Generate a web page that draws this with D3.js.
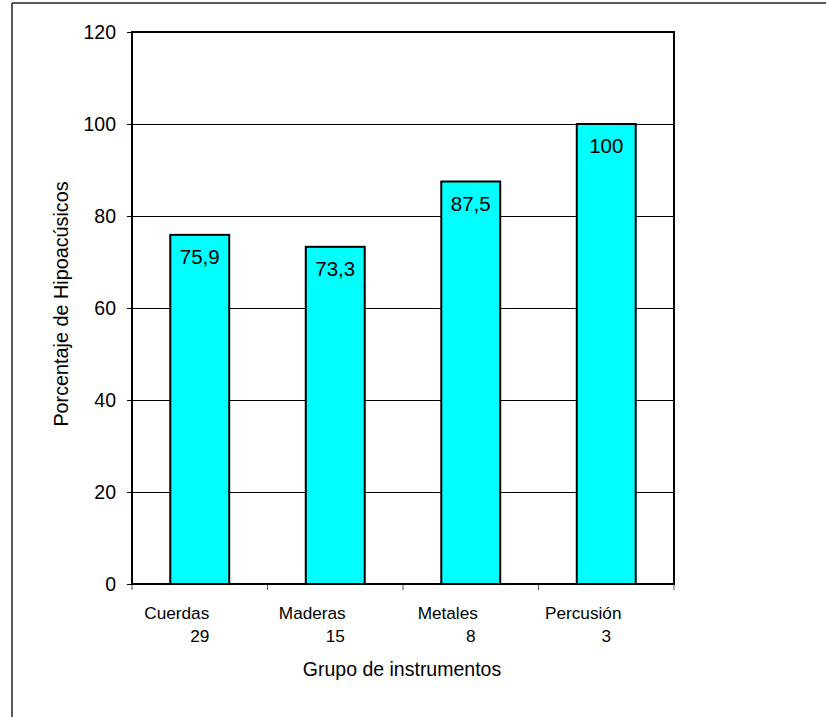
<!DOCTYPE html>
<html>
<head>
<meta charset="utf-8">
<script src="https://cdn.jsdelivr.net/npm/d3@7"></script>
<style>
  html, body { margin: 0; padding: 0; background: #fff; }
  svg { display: block; font-family: Arial, "Liberation Sans", sans-serif; }
</style>
</head>
<body>
<script>
// Porcentaje de músicos hipoacúsicos por grupo de instrumentos
const categories = ["Cuerdas", "Maderas", "Metales", "Percusión"];
const counts = ["29", "15", "8", "3"];            // n de cada grupo
const percentages = [75.9, 73.3, 87.5, 100];
const valueLabels = ["75,9", "73,3", "87,5", "100"];
const yTicks = [0, 20, 40, 60, 80, 100, 120];
const yTitle = "Porcentaje de Hipoacúsicos";
const xTitle = "Grupo de instrumentos";

const W = 826, H = 717;
const plot = { left: 132, right: 674, top: 32, bottom: 584 };

const svg = d3.select("body").append("svg")
  .attr("width", W).attr("height", H);

// frame lines of the chart area
svg.append("line").attr("x1", 12).attr("x2", W).attr("y1", 3).attr("y2", 3)
  .attr("stroke", "#222").attr("stroke-width", 1.5);
svg.append("line").attr("x1", 12).attr("x2", 12).attr("y1", 3).attr("y2", H)
  .attr("stroke", "#222").attr("stroke-width", 1.5);

const y = d3.scaleLinear().domain([0, 120]).range([plot.bottom, plot.top]);
const xCat = d3.scaleBand().domain(categories).range([plot.left, plot.right]).padding(0);
const xBar = d3.scaleBand().domain(categories).range([plot.left, plot.right])
  .paddingInner(0.565).paddingOuter(0.2825);

// horizontal gridlines
svg.append("g").selectAll("line")
  .data(yTicks.filter(v => v > 0 && v < 120))
  .join("line")
  .attr("x1", plot.left).attr("x2", plot.right)
  .attr("y1", d => Math.round(y(d)) + 0.5).attr("y2", d => Math.round(y(d)) + 0.5)
  .attr("stroke", "#000").attr("stroke-width", 1);

// y axis
const yAxis = svg.append("g")
  .attr("transform", `translate(${plot.left},0)`)
  .call(d3.axisLeft(y).tickValues(yTicks).tickSize(5).tickPadding(11).tickFormat(d3.format("d")));
yAxis.select(".domain").remove();
yAxis.selectAll(".tick line").attr("stroke", "#000").attr("stroke-width", 1);
yAxis.selectAll(".tick text").attr("font-size", 19.5).attr("fill", "#000")
  .attr("font-family", "Arial, 'Liberation Sans', sans-serif");

// x axis ticks at category boundaries
const bounds = categories.map(c => xCat(c)).concat([plot.right]);
svg.append("g").selectAll("line").data(bounds).join("line")
  .attr("x1", d => d).attr("x2", d => d)
  .attr("y1", plot.bottom).attr("y2", plot.bottom + 6)
  .attr("stroke", "#555").attr("stroke-width", 1);

// bars
svg.append("g").selectAll("rect")
  .data(categories)
  .join("rect")
  .attr("x", d => xBar(d))
  .attr("y", (d, i) => y(percentages[i]))
  .attr("width", xBar.bandwidth())
  .attr("height", (d, i) => plot.bottom - y(percentages[i]))
  .attr("fill", "#00ffff")
  .attr("stroke", "#000")
  .attr("stroke-width", 2);

// plot border
svg.append("rect")
  .attr("x", plot.left).attr("y", plot.top)
  .attr("width", plot.right - plot.left).attr("height", plot.bottom - plot.top)
  .attr("fill", "none").attr("stroke", "#000").attr("stroke-width", 2);

// value labels inside the bars
svg.append("g").selectAll("text")
  .data(categories)
  .join("text")
  .attr("x", d => xBar(d) + xBar.bandwidth() / 2)
  .attr("y", (d, i) => y(percentages[i]) + 29)
  .attr("text-anchor", "middle")
  .attr("font-size", 20.5)
  .attr("fill", "#000")
  .text((d, i) => valueLabels[i]);

// category labels: group name and group size
const catG = svg.append("g");
catG.selectAll("text.name").data(categories).join("text")
  .attr("class", "name")
  .attr("x", d => xCat(d) + xCat.bandwidth() / 2 - 23)
  .attr("y", 619)
  .attr("text-anchor", "middle")
  .attr("font-size", 17.2)
  .text(d => d);
catG.selectAll("text.count").data(categories).join("text")
  .attr("class", "count")
  .attr("x", d => xCat(d) + xCat.bandwidth() / 2)
  .attr("y", 642)
  .attr("text-anchor", "middle")
  .attr("font-size", 17.2)
  .text((d, i) => counts[i]);

// axis titles
svg.append("text")
  .attr("x", (plot.left + plot.right) / 2 - 1)
  .attr("y", 676)
  .attr("text-anchor", "middle")
  .attr("font-size", 19.5)
  .text(xTitle);

svg.append("text")
  .attr("transform", `translate(68,${304}) rotate(-90)`)
  .attr("text-anchor", "middle")
  .attr("font-size", 19.8)
  .text(yTitle);
</script>
</body>
</html>
